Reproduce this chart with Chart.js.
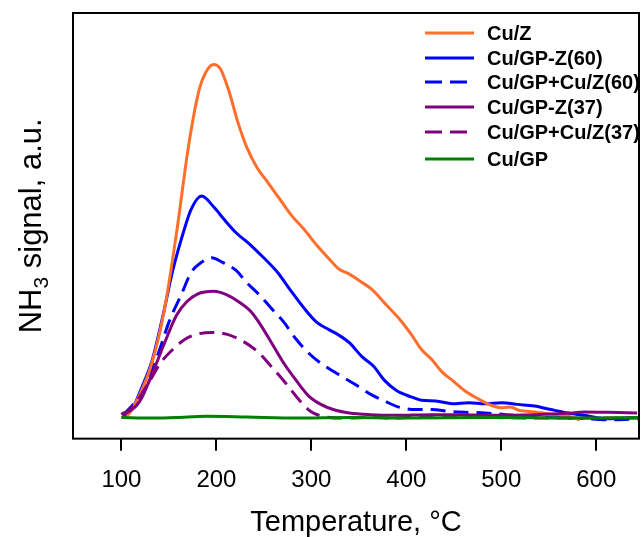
<!DOCTYPE html>
<html>
<head>
<meta charset="utf-8">
<script src="https://cdn.jsdelivr.net/npm/chart.js@4"></script>
<style>
  html, body { margin: 0; padding: 0; background: #fff; }
  #wrap { width: 642px; height: 537px; }
</style>
</head>
<body>
<div id="wrap"><canvas id="c" width="642" height="537"></canvas></div>
<script>
// ---- data (temperature in °C, NH3 signal in a.u.) ----
const seriesLabels = ["Cu/Z", "Cu/GP-Z(60)", "Cu/GP+Cu/Z(60)", "Cu/GP-Z(37)", "Cu/GP+Cu/Z(37)", "Cu/GP"];
const xTickValues = [100, 200, 300, 400, 500, 600];

const cuZ_T = [100, 106.5, 119.5, 132, 145.5, 158, 171, 182, 189, 197, 204, 212.5, 223, 232, 243, 253.5, 266.5, 279.5, 292.5, 305.5, 318.5, 329, 340, 351, 364, 379, 394, 405, 416, 427, 437.5, 448.5, 461.5, 474.5, 487, 500, 509, 519.5, 535, 552, 570, 583];
const cuZ_V = [0, 6, 68, 158, 318, 538, 798, 958, 1008, 1030, 1018, 958, 858, 788, 728, 688, 638, 588, 548, 503, 463, 433, 418, 398, 373, 328, 283, 243, 198, 168, 133, 108, 78, 56, 38, 28, 30, 20, 16, 10, 4, -7];

const gpZ60_T = [102, 111, 121.5, 132.5, 143, 154, 165, 173.5, 184.5, 197.5, 208, 221, 234, 249, 264.5, 277.5, 292.5, 305.5, 318.5, 329, 340, 353, 366, 377, 390, 405, 416, 431, 448.5, 466, 483, 500, 517.5, 535, 552, 570, 587, 613, 630, 647];
const gpZ60_V = [8, 23, 88, 168, 288, 428, 538, 608, 646, 613, 578, 538, 508, 468, 423, 373, 318, 278, 256, 240, 218, 178, 148, 108, 78, 60, 50, 48, 40, 43, 40, 43, 38, 33, 23, 13, 6, -4, -2, 0];

const gpCuZ60_T = [102, 115, 128, 139, 150, 163, 173.5, 184.5, 195, 206, 221, 232, 245, 258, 271, 284, 297, 310, 327, 345, 362, 377, 392, 409.5, 427, 444, 461.5, 483, 505, 526, 548, 578, 613, 647];
const gpCuZ60_V = [8, 48, 118, 188, 278, 358, 423, 453, 466, 453, 428, 393, 358, 318, 278, 228, 188, 158, 128, 98, 68, 48, 30, 23, 23, 18, 15, 13, 8, 3, 0, -2, -7, -4];

const gpZ37_T = [100, 102, 108.5, 119.5, 132.5, 145.5, 158, 169, 180, 197.5, 210.5, 223, 236.5, 247, 258, 271, 284, 297, 310, 323, 340, 362, 388, 427, 448.5, 491.5, 535, 570, 587, 613, 643];
const gpZ37_V = [8, 13, 18, 48, 128, 218, 298, 338, 360, 368, 358, 338, 308, 268, 218, 158, 108, 63, 38, 23, 13, 8, 6, 8, 8, 6, 8, 12, 16, 15, 13];

const gpCuZ37_T = [102, 115, 128, 141, 154, 167, 180, 195, 210.5, 227.5, 243, 258, 273.5, 286.5, 299, 312, 336, 362, 388, 414, 431, 457, 491.5, 535, 578, 647];
const gpCuZ37_V = [3, 43, 98, 158, 198, 228, 243, 248, 243, 223, 193, 148, 98, 53, 18, 3, -2, 0, -2, 3, 6, 3, 0, -2, -2, -2];

const gp_T = [100, 130, 158, 189, 232, 284, 340, 405, 491, 578, 647];
const gp_V = [0, -2, 0, 3, 1, -2, 0, -2, 0, -2, 0];

const seriesColors = ["#ff6f2c", "#0000ff", "#0000ff", "#800080", "#800080", "#008000"];
const seriesDash = [[], [], [15, 8], [], [15, 8], []];
const seriesOrder = [3, 5, 4, 2, 1, 0];

const xs = [cuZ_T, gpZ60_T, gpCuZ60_T, gpZ37_T, gpCuZ37_T, gp_T];
const ys = [cuZ_V, gpZ60_V, gpCuZ60_V, gpZ37_V, gpCuZ37_V, gp_V];

const FONT = "'Liberation Sans', Arial, Helvetica, sans-serif";

const datasets = seriesLabels.map((lab, i) => ({
  label: lab,
  data: xs[i].map((t, k) => ({ x: t, y: ys[i][k] })),
  borderColor: seriesColors[i],
  backgroundColor: seriesColors[i],
  borderDash: seriesDash[i],
  borderWidth: 3,
  pointRadius: 0,
  fill: false,
  cubicInterpolationMode: 'monotone',
  order: seriesOrder[i]
}));

const framePlugin = {
  id: 'frame',
  afterDatasetsDraw(chart) {
    const a = chart.chartArea, ctx = chart.ctx;
    ctx.save();
    ctx.strokeStyle = '#000';
    ctx.lineWidth = 2;
    ctx.strokeRect(a.left, a.top, a.right - a.left, a.bottom - a.top);
    ctx.restore();
  }
};

const yLabelPlugin = {
  id: 'ylabel',
  afterDraw(chart) {
    const a = chart.chartArea, ctx = chart.ctx;
    const big = '31px ' + FONT, small = '21px ' + FONT;
    ctx.save();
    ctx.fillStyle = '#000';
    ctx.translate(30, (a.top + a.bottom) / 2);
    ctx.rotate(-Math.PI / 2);
    ctx.textBaseline = 'alphabetic';
    ctx.font = big; const w1 = ctx.measureText('NH').width;
    ctx.font = small; const w2 = ctx.measureText('3').width;
    ctx.font = big; const w3 = ctx.measureText(' signal, a.u.').width;
    let x = -(w1 + w2 + w3) / 2;
    const base = 11;
    ctx.font = big; ctx.fillText('NH', x, base); x += w1;
    ctx.font = small; ctx.fillText('3', x, base + 7); x += w2;
    ctx.font = big; ctx.fillText(' signal, a.u.', x, base);
    ctx.restore();
  }
};

const legendPlugin = {
  id: 'customLegend',
  afterDraw(chart) {
    const ctx = chart.ctx;
    const x0 = 425, x1 = 474, tx = 487;
    const rows = [33, 58, 82, 107, 132, 159];
    ctx.save();
    ctx.font = 'bold 20px ' + FONT;
    ctx.textBaseline = 'middle';
    chart.data.datasets.forEach((ds, i) => {
      const y = rows[i];
      const dashed = ds.borderDash && ds.borderDash.length;
      ctx.strokeStyle = ds.borderColor;
      ctx.lineWidth = 3;
      ctx.setLineDash(dashed ? [17, 8] : []);
      ctx.beginPath(); ctx.moveTo(x0, y); ctx.lineTo(dashed ? 467 : x1, y); ctx.stroke();
      ctx.setLineDash([]);
      ctx.fillStyle = '#000';
      ctx.fillText(ds.label, tx, y + 1);
    });
    ctx.restore();
  }
};

new Chart(document.getElementById('c'), {
  type: 'line',
  data: { datasets },
  plugins: [framePlugin, yLabelPlugin, legendPlugin],
  options: {
    responsive: false,
    animation: false,
    layout: { padding: { left: 73, top: 13, right: 3, bottom: 0 } },
    plugins: { legend: { display: false }, tooltip: { enabled: false } },
    scales: {
      x: {
        type: 'linear',
        min: 49, max: 645,
        afterBuildTicks(scale) { scale.ticks = xTickValues.map(v => ({ value: v })); },
        grid: { drawOnChartArea: false, drawTicks: true, tickLength: 12, color: '#000', lineWidth: 2 },
        border: { display: false },
        ticks: { color: '#000', font: { family: FONT, size: 24 }, padding: 15, maxRotation: 0, autoSkip: false },
        title: { display: true, text: 'Temperature, °C', color: '#000', font: { family: FONT, size: 29, lineHeight: 0.95 }, padding: { top: 0, bottom: 0 } }
      },
      y: {
        type: 'linear',
        display: false,
        min: -62, max: 1180
      }
    }
  }
});
</script>
</body>
</html>
